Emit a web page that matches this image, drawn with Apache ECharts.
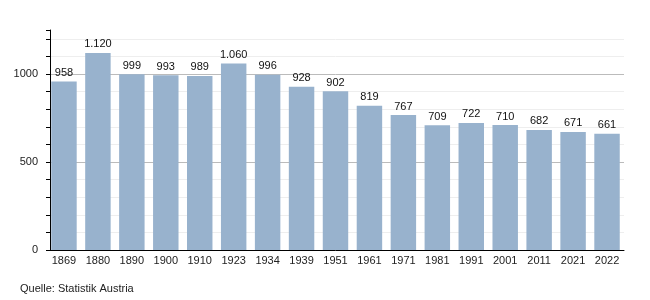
<!DOCTYPE html>
<html><head><meta charset="utf-8">
<script src="https://cdn.jsdelivr.net/npm/echarts@6/dist/echarts.min.js"></script>
<style>html,body{margin:0;padding:0;background:#fff}#c{width:650px;height:300px}</style>
</head><body><div id="c"></div>
<script>
const categories = ['1869','1880','1890','1900','1910','1923','1934','1939','1951','1961','1971','1981','1991','2001','2011','2021','2022'];
const values = [958,1120,999,993,989,1060,996,928,902,819,767,709,722,710,682,671,661];
const yTickLabels = [0,500,1000];
const sourceText = 'Quelle: Statistik Austria';

const chart = echarts.init(document.getElementById('c'), null, {renderer:'canvas'});
const font = 'Liberation Sans, Arial, sans-serif';
chart.setOption({
  animation:false,
  textStyle:{fontFamily:font},
  grid:{left:47,right:26,top:30,bottom:50},
  graphic:[{type:'text',left:20,top:283,style:{text:sourceText,font:'11px '+font,fill:'#222'}}],
  xAxis:{type:'category',data:categories,
    axisLine:{lineStyle:{color:'#000',width:1}},
    axisTick:{show:false},
    axisLabel:{color:'#222',fontSize:11,margin:5,fontFamily:font}},
  yAxis:{type:'value',min:0,max:1250,interval:100,offset:-3,
    axisLine:{show:true,lineStyle:{color:'#000'}},
    axisTick:{show:true,length:4,lineStyle:{color:'#000'}},
    axisLabel:{color:'#222',fontSize:11,margin:12,fontFamily:font,
      formatter:v=>yTickLabels.includes(v)?String(v):''},
    splitLine:{show:true,lineStyle:{color:['#bbb','#eee','#eee','#eee','#eee','#bbb','#eee','#eee','#eee','#eee','#bbb','#eee','#eee','#fff']}}},
  series:[{type:'bar',data:values,barCategoryGap:'25%',
    itemStyle:{color:'#98b2cd'},
    label:{show:true,position:'top',distance:3,color:'#111',fontSize:11,fontFamily:font,
      formatter:p=>p.value.toLocaleString('de-DE')}}]
});
</script></body></html>
